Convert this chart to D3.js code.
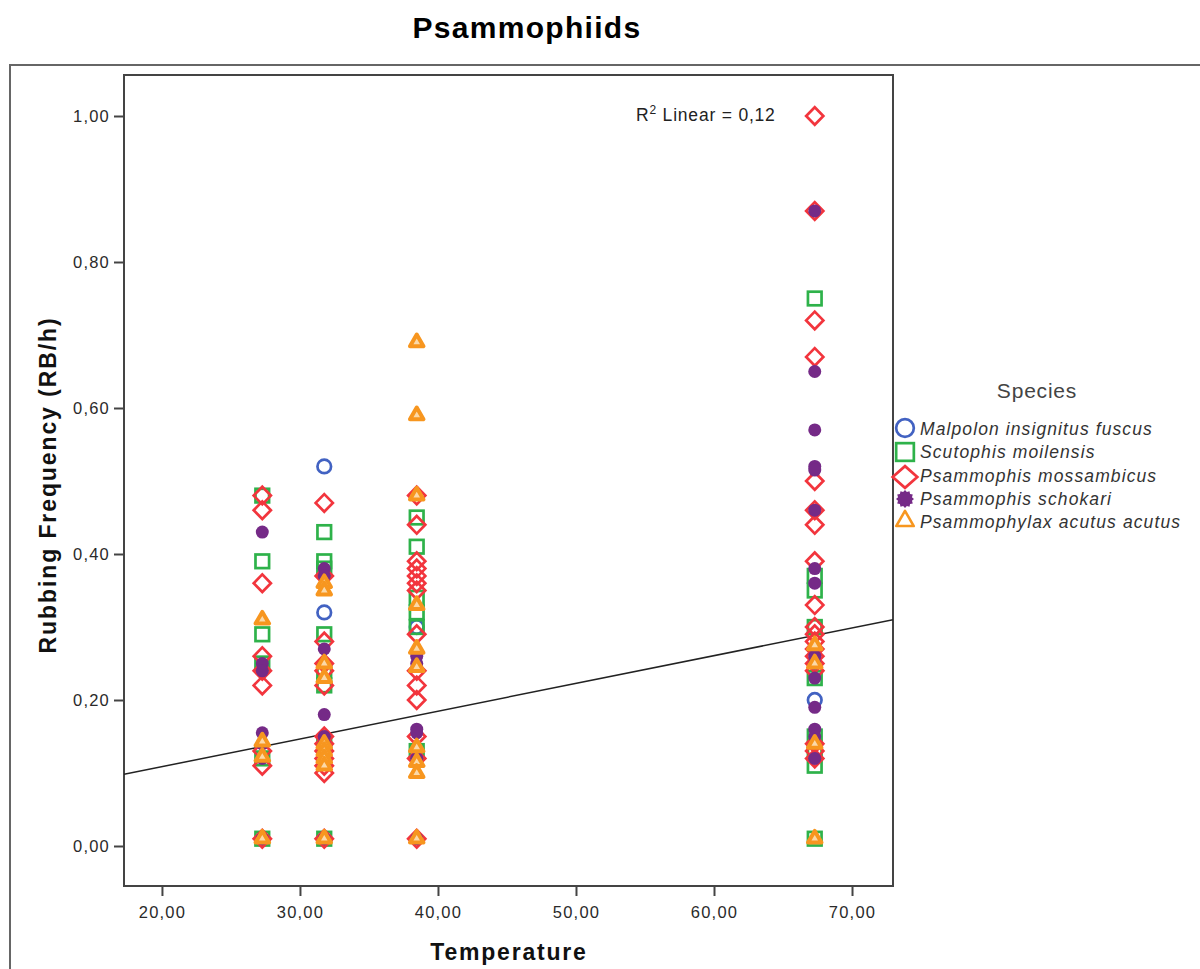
<!DOCTYPE html>
<html>
<head>
<meta charset="utf-8">
<script src="https://cdn.jsdelivr.net/npm/d3@7"></script>
<style>
  html, body { margin: 0; padding: 0; background: #fff; }
  svg { display: block; font-family: "Liberation Sans", Arial, sans-serif; }
</style>
</head>
<body>
<svg id="chart" width="1200" height="969"></svg>
<script>
// ---------------- DATA ----------------
const chartTitle = "Psammophiids";
const xLabel = "Temperature";
const yLabel = "Rubbing Frequency (RB/h)";
const legendTitle = "Species";
const speciesNames = [
  "Malpolon insignitus fuscus",
  "Scutophis moilensis",
  "Psammophis mossambicus",
  "Psammophis schokari",
  "Psammophylax acutus acutus"
];
// temperature groups (x positions of the four columns)
const temperatures = [27.27, 31.76, 38.46, 67.3];
// values per temperature group, one array per species
const malpolonValues = [[], [0.52, 0.32], [0.30], [0.20]];
const scutophisValues = [
  [0.48, 0.39, 0.29, 0.25, 0.12, 0.01],
  [0.43, 0.39, 0.38, 0.29, 0.24, 0.22, 0.14, 0.01],
  [0.45, 0.41, 0.34, 0.32, 0.30, 0.13],
  [0.75, 0.37, 0.35, 0.30, 0.23, 0.15, 0.13, 0.11, 0.01]
];
const mossambicusValues = [
  [0.48, 0.46, 0.36, 0.26, 0.24, 0.22, 0.13, 0.11, 0.01],
  [0.47, 0.37, 0.28, 0.25, 0.24, 0.22, 0.15, 0.14, 0.13, 0.12, 0.11, 0.10, 0.01],
  [0.48, 0.44, 0.39, 0.38, 0.37, 0.36, 0.35, 0.29, 0.24, 0.22, 0.20, 0.15, 0.12, 0.01],
  [1.00, 0.87, 0.72, 0.67, 0.50, 0.46, 0.44, 0.39, 0.33, 0.30, 0.29, 0.28, 0.27, 0.26, 0.25, 0.24, 0.14, 0.13, 0.12]
];
const schokariValues = [
  [0.43, 0.25, 0.24, 0.155, 0.14, 0.12, 0.01],
  [0.38, 0.37, 0.27, 0.18, 0.15, 0.14, 0.01],
  [0.26, 0.25, 0.16, 0.155, 0.12, 0.01],
  [0.87, 0.65, 0.57, 0.52, 0.515, 0.46, 0.38, 0.36, 0.26, 0.25, 0.23, 0.19, 0.16, 0.15, 0.12]
];
const psammophylaxValues = [
  [0.31, 0.143, 0.122, 0.01],
  [0.36, 0.35, 0.25, 0.23, 0.14, 0.13, 0.12, 0.11, 0.01],
  [0.69, 0.59, 0.48, 0.33, 0.27, 0.245, 0.135, 0.115, 0.10, 0.01],
  [0.275, 0.25, 0.14, 0.01]
];
// fit line (R² Linear = 0,12)
const fitIntercept = 0.0327;
const fitSlope = 0.0038;
const r2Value = 0.12;
const xTicks = [20, 30, 40, 50, 60, 70];
const yTicks = [0, 0.2, 0.4, 0.6, 0.8, 1.0];

// ---------------- SETUP ----------------
const svg = d3.select("#chart");
const plot = { left: 124, right: 893, top: 75, bottom: 886 };
const x = d3.scaleLinear().domain([17.25, 72.97]).range([plot.left, plot.right]);
const y = d3.scaleLinear().domain([0, 1]).range([846, 116]);
const loc = d3.formatLocale({ decimal: ",", thousands: ".", grouping: [3], currency: ["", ""] });
const fmt2 = loc.format(".2f");

const colors = ["#4262c2", "#2eb24a", "#f2353d", "#752a87", "#f7961f"];
const allValues = [malpolonValues, scutophisValues, mossambicusValues, schokariValues, psammophylaxValues];

// outer frame
svg.append("path")
  .attr("d", "M10,969 L10,65 L1200,65")
  .attr("fill", "none").attr("stroke", "#666").attr("stroke-width", 2);

// title
svg.append("text").attr("x", 527).attr("y", 38)
  .attr("text-anchor", "middle").attr("font-size", 30).attr("font-weight", "bold")
  .attr("letter-spacing", 1.3).attr("fill", "#000").text(chartTitle);

// plot frame
svg.append("rect")
  .attr("x", plot.left).attr("y", plot.top)
  .attr("width", plot.right - plot.left).attr("height", plot.bottom - plot.top)
  .attr("fill", "#fff").attr("stroke", "#444").attr("stroke-width", 2);

// axes
const xAxis = svg.append("g").attr("transform", `translate(0,${plot.bottom})`)
  .call(d3.axisBottom(x).tickValues(xTicks).tickFormat(fmt2).tickSize(10).tickPadding(10).tickSizeOuter(0));
const yAxis = svg.append("g").attr("transform", `translate(${plot.left},0)`)
  .call(d3.axisLeft(y).tickValues(yTicks).tickFormat(fmt2).tickSize(10).tickPadding(4).tickSizeOuter(0));
[xAxis, yAxis].forEach(g => {
  g.select(".domain").remove();
  g.selectAll(".tick line").attr("stroke", "#444").attr("stroke-width", 2);
  g.selectAll(".tick text").attr("font-size", 16.5).attr("fill", "#2a2a2a")
    .attr("letter-spacing", 1.2)
    .attr("font-family", "'Liberation Sans', Arial, sans-serif");
});

// axis labels
svg.append("text").attr("x", 509).attr("y", 960)
  .attr("text-anchor", "middle").attr("font-size", 23).attr("font-weight", "bold")
  .attr("letter-spacing", 1.8).attr("fill", "#111").text(xLabel);
svg.append("text").attr("transform", "translate(56,485) rotate(-90)")
  .attr("text-anchor", "middle").attr("font-size", 23).attr("font-weight", "bold")
  .attr("letter-spacing", 1.9).attr("fill", "#111").text(yLabel);

// fit line
const clipId = "plotclip";
svg.append("clipPath").attr("id", clipId).append("rect")
  .attr("x", plot.left).attr("y", plot.top)
  .attr("width", plot.right - plot.left).attr("height", plot.bottom - plot.top);
const xd = x.domain();
svg.append("line")
  .attr("clip-path", `url(#${clipId})`)
  .attr("x1", x(xd[0])).attr("y1", y(fitIntercept + fitSlope * xd[0]))
  .attr("x2", x(xd[1])).attr("y2", y(fitIntercept + fitSlope * xd[1]))
  .attr("stroke", "#222").attr("stroke-width", 1.5);

// R² label
const r2 = svg.append("text").attr("x", 636).attr("y", 121)
  .attr("font-size", 17.5).attr("fill", "#222").attr("letter-spacing", 0.8);
r2.append("tspan").text("R");
r2.append("tspan").attr("font-size", 12).attr("dy", -7).text("2");
r2.append("tspan").attr("dy", 7).text(" Linear = " + loc.format(".2f")(r2Value));

// ---------------- MARKERS ----------------
function drawMarker(g, type, cx, cy, color, big) {
  const s = big ? 1.3 : 1;
  if (type === 0) {
    g.append("circle").attr("cx", cx).attr("cy", cy).attr("r", 6.8 * s)
      .attr("fill", "none").attr("stroke", color).attr("stroke-width", 2.7);
  } else if (type === 1) {
    const h = 6.8 * s;
    g.append("rect").attr("x", cx - h).attr("y", cy - h).attr("width", 2 * h).attr("height", 2 * h)
      .attr("fill", "none").attr("stroke", color).attr("stroke-width", 2.7);
  } else if (type === 2) {
    const w = 8.6 * s * (big ? 1.1 : 1), hh = 8.8 * s * (big ? 0.95 : 1);
    g.append("path").attr("d", `M${cx},${cy - hh} L${cx + w},${cy} L${cx},${cy + hh} L${cx - w},${cy} Z`)
      .attr("fill", "none").attr("stroke", color).attr("stroke-width", 2.7);
  } else if (type === 3) {
    if (big) {
      const pts = d3.range(24).map(i => {
        const a = i / 24 * 2 * Math.PI, r = i % 2 ? 7.2 : 9;
        return [cx + r * Math.cos(a), cy + r * Math.sin(a)];
      });
      g.append("path").attr("d", d3.line()(pts) + "Z").attr("fill", color);
    } else {
      g.append("circle").attr("cx", cx).attr("cy", cy).attr("r", 6.5).attr("fill", color);
    }
  } else {
    const side = 13.5 * s;
    const ht = side * Math.sqrt(3) / 2;
    g.append("path")
      .attr("d", `M${cx},${cy - ht * 2 / 3} L${cx + side / 2},${cy + ht / 3} L${cx - side / 2},${cy + ht / 3} Z`)
      .attr("fill", big ? "none" : "#fbd9a8").attr("stroke", color).attr("stroke-width", big ? 2.6 : 4)
      .attr("stroke-linejoin", "round");
  }
}

const pointsG = svg.append("g");
allValues.forEach((groups, si) => {
  groups.forEach((vals, ti) => {
    vals.forEach(v => drawMarker(pointsG, si, x(temperatures[ti]), y(v), colors[si], false));
  });
});

// ---------------- LEGEND ----------------
svg.append("text").attr("x", 1037).attr("y", 398).attr("text-anchor", "middle")
  .attr("font-size", 21).attr("fill", "#444").attr("letter-spacing", 0.8).text(legendTitle);
const legendMarkerY = [428, 452, 477, 499, 521];
const legendTextY = [435, 458, 482, 505, 528];
const legG = svg.append("g");
speciesNames.forEach((name, i) => {
  drawMarker(legG, i, 905, legendMarkerY[i], colors[i], true);
  legG.append("text").attr("x", 920).attr("y", legendTextY[i])
    .attr("font-size", 17.5).attr("font-style", "italic").attr("fill", "#333")
    .attr("letter-spacing", 1.1).text(name);
});
</script>
</body>
</html>
